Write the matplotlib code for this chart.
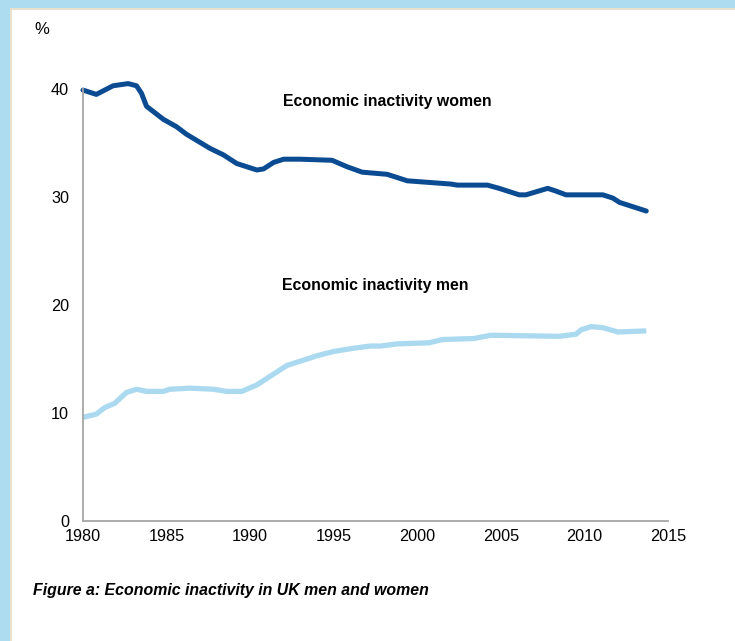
import numpy as np
import matplotlib.pyplot as plt
from matplotlib.patches import Rectangle

plt.rcParams['font.family'] = ['Liberation Sans', 'DejaVu Sans']

# Economic inactivity, women (%)
women_year = [1980.0, 1980.8, 1981.8, 1982.7, 1983.2, 1983.5, 1983.8, 1984.8, 1985.6,
              1986.2, 1987.6, 1988.4, 1989.2, 1990.4, 1990.8, 1991.4, 1992.0, 1993.0,
              1994.9, 1995.8, 1996.7, 1998.2, 1999.4, 2002.0, 2002.4, 2004.2, 2004.9,
              2006.1, 2006.5, 2007.8, 2008.2, 2008.9, 2011.1, 2011.7, 2012.1, 2012.9, 2013.7]
women_val = [39.9, 39.5, 40.3, 40.5, 40.3, 39.6, 38.4, 37.2, 36.5,
             35.8, 34.5, 33.9, 33.1, 32.5, 32.6, 33.2, 33.5, 33.5,
             33.4, 32.8, 32.3, 32.1, 31.5, 31.2, 31.1, 31.1, 30.8,
             30.2, 30.2, 30.8, 30.6, 30.2, 30.2, 29.9, 29.5, 29.1, 28.7]

# Economic inactivity, men (%)
men_year = [1980.0, 1980.8, 1981.3, 1981.9, 1982.6, 1983.2, 1983.8, 1984.8, 1985.2,
            1986.4, 1987.8, 1988.6, 1989.5, 1990.4, 1991.4, 1992.2, 1993.0, 1994.0,
            1995.0, 1996.2, 1997.2, 1997.8, 1998.8, 2000.7, 2001.5, 2003.4, 2004.4,
            2008.5, 2009.5, 2009.8, 2010.4, 2011.1, 2012.0, 2013.7]
men_val = [9.6, 9.9, 10.5, 10.9, 11.9, 12.2, 12.0, 12.0, 12.2,
           12.3, 12.2, 12.0, 12.0, 12.6, 13.6, 14.4, 14.8, 15.3,
           15.7, 16.0, 16.2, 16.2, 16.4, 16.5, 16.8, 16.9, 17.2,
           17.1, 17.3, 17.7, 18.0, 17.9, 17.5, 17.6]

xticks = [1980, 1985, 1990, 1995, 2000, 2005, 2010, 2015]
yticks = [0, 10, 20, 30, 40]

W, H = 735, 641
fig = plt.figure(figsize=(W / 100, H / 100), dpi=100, facecolor='white')

# page frame: light blue band on top and left, thin beige rule
fig.patches.append(Rectangle((0, 1 - 8 / H), 1, 8 / H, transform=fig.transFigure,
                             facecolor='#ADDCF0', edgecolor='none', zorder=0))
fig.patches.append(Rectangle((0, 0), 10 / W, 1, transform=fig.transFigure,
                             facecolor='#ADDCF0', edgecolor='none', zorder=0))
fig.patches.append(Rectangle((10 / W, 1 - 10 / H), 1, 2 / H, transform=fig.transFigure,
                             facecolor='#E8E2CC', edgecolor='none', zorder=0))
fig.patches.append(Rectangle((10 / W, 0), 2 / W, 1 - 8 / H, transform=fig.transFigure,
                             facecolor='#E8E2CC', edgecolor='none', zorder=0))

ax = fig.add_axes([83 / W, 1 - 521 / H, 585 / W, 432 / H])
ax.set_facecolor('none')

ax.plot(women_year, women_val, color='#0B4B92', lw=3.6, solid_capstyle='round',
        solid_joinstyle='round', clip_on=False)
ax.plot(men_year, men_val, color='#ABDAF0', lw=3.8, solid_capstyle='butt',
        solid_joinstyle='round', clip_on=False)

ax.set_xlim(1980, 2015)
ax.set_ylim(0, 40)
ax.set_xticks(xticks)
ax.set_yticks(yticks)
ax.tick_params(length=0, labelsize=11.7, colors='black')
ax.tick_params(axis='y', pad=10)
ax.tick_params(axis='x', pad=6)
for s in ['top', 'right']:
    ax.spines[s].set_visible(False)
for s in ['left', 'bottom']:
    ax.spines[s].set_color('#A6A6A6')
    ax.spines[s].set_linewidth(1.3)

ax.text(1998.2, 38.8, 'Economic inactivity women', fontsize=11.4, fontweight='bold',
        ha='center', va='center')
ax.text(1997.5, 21.8, 'Economic inactivity men', fontsize=11.4, fontweight='bold',
        ha='center', va='center')

fig.text(42 / W, 1 - 30 / H, '%', fontsize=12, ha='center', va='center')
fig.text(33 / W, 1 - 590 / H, 'Figure a: Economic inactivity in UK men and women',
         fontsize=11.4, fontweight='bold', style='italic', ha='left', va='center')

fig.savefig('out.png', dpi=100, facecolor='white')
